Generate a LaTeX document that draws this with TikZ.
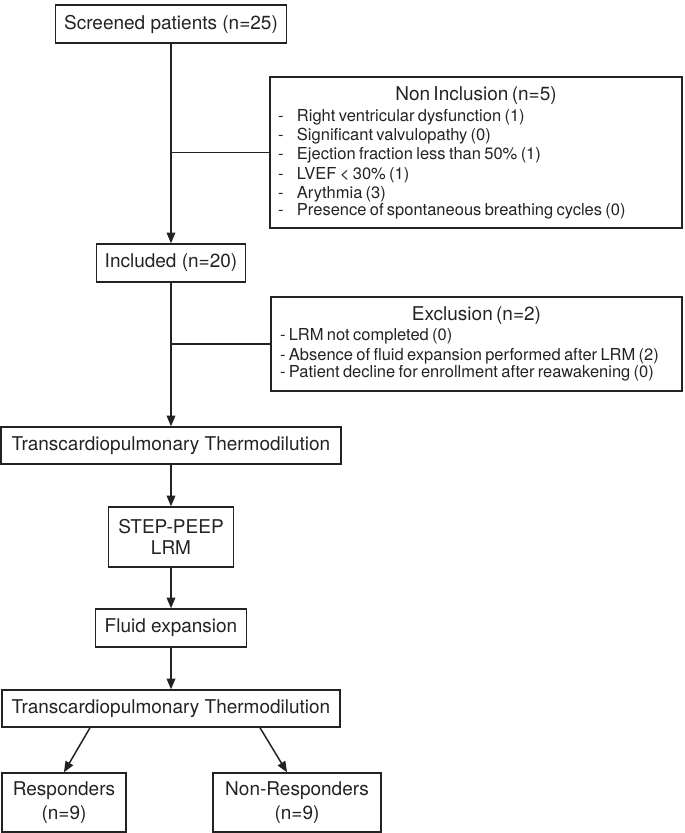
\documentclass[tikz,border=0pt]{standalone}
\usepackage{fontspec}
\setmainfont{TeX Gyre Heros}
\usepackage{tikz}
\usetikzlibrary{arrows,positioning}
\definecolor{ink}{RGB}{35,35,35}
\tikzstyle{stage}=[rectangle,draw=ink,line width=1.5pt,text=ink,
minimum height=38pt,inner xsep=4pt,text centered,align=center,font=\fontsize{19}{21}\selectfont]
\tikzstyle{listbox}=[rectangle,draw=ink,line width=1.5pt,text=ink,
inner xsep=8pt,inner ysep=0pt,text width=396pt,align=left]
\tikzstyle{arrow}=[line width=1.5pt,draw=ink,->,>=triangle 45]
\tikzstyle{link}=[line width=1.5pt,draw=ink]
\newcommand{\listdash}{\makebox[19pt][l]{-}}

\begin{document}
\begin{tikzpicture}[x=1pt,y=1pt]
        \useasboundingbox (0,0) rectangle (685,-833);
        \node (start) [stage,minimum width=231pt] at (171,-24) {Screened patients (n=25)};
        \node (incl) [stage,minimum width=149pt,node distance=239pt,below of=start] {Included (n=20)};
        \node (tt1) [stage,minimum width=340pt,minimum height=37pt,node distance=182.5pt,below of=incl] {Transcardiopulmonary Thermodilution};
        \node (step) [stage,minimum width=125pt,minimum height=60pt,node distance=91.5pt,below of=tt1] {STEP-PEEP\\LRM};
        \node (fluid) [stage,minimum width=151pt,node distance=91pt,below of=step] {Fluid expansion};
        \node (tt2) [stage,minimum width=338pt,minimum height=37pt,node distance=80.5pt,below of=fluid] {Transcardiopulmonary Thermodilution};
        \node (resp) [stage,minimum width=124pt,minimum height=59pt,node distance=94pt,below of=tt2,xshift=-107pt,
            font=\fontsize{19}{24}\selectfont] {Responders\\(n=9)};
        \node (nonresp) [stage,minimum width=168pt,minimum height=59pt,node distance=94pt,below of=tt2,xshift=126pt,
            font=\fontsize{19}{24}\selectfont] {Non-Responders\\(n=9)};

        \node (noninc) [listbox,minimum height=151pt] at (476,-152.5) {%
            {\centering\fontsize{19}{21}\selectfont Non Inclusion (n=5)\par}
            \vspace{2pt}
            \fontsize{16.5}{19.3}\selectfont
            \listdash Right ventricular dysfunction (1)\\
            \listdash Significant valvulopathy (0)\\
            \listdash Ejection fraction less than 50\% (1)\\
            \listdash LVEF < 30\% (1)\\
            \listdash Arythmia (3)\\
            \listdash Presence of spontaneous breathing cycles (0)};
        \node (excl) [listbox,minimum height=94pt,inner xsep=9pt,text width=393pt] at (476.5,-344) {%
            {\centering\fontsize{19}{21}\selectfont Exclusion (n=2)\par}
            \fontsize{16.5}{20}\selectfont
            - LRM not completed (0)\\
            - Absence of fluid expansion performed after LRM (2)\\
            - Patient decline for enrollment after reawakening (0)};

        \draw [arrow] (start) -- (incl);
        \draw [link] (noninc.west) -- (noninc.west -| start.south);
        \draw [arrow] (incl) -- (tt1);
        \draw [link] (excl.west) -- (excl.west -| incl.south);
        \draw [arrow] (tt1) -- (step);
        \draw [arrow] (step) -- (fluid);
        \draw [arrow] (fluid) -- (tt2);
        \draw [arrow] ([xshift=-81pt]tt2.south) -- (resp.north);
        \draw [arrow] ([xshift=89pt]tt2.south) -- ([xshift=-10pt]nonresp.north);
    
    \end{tikzpicture}
\end{document}
